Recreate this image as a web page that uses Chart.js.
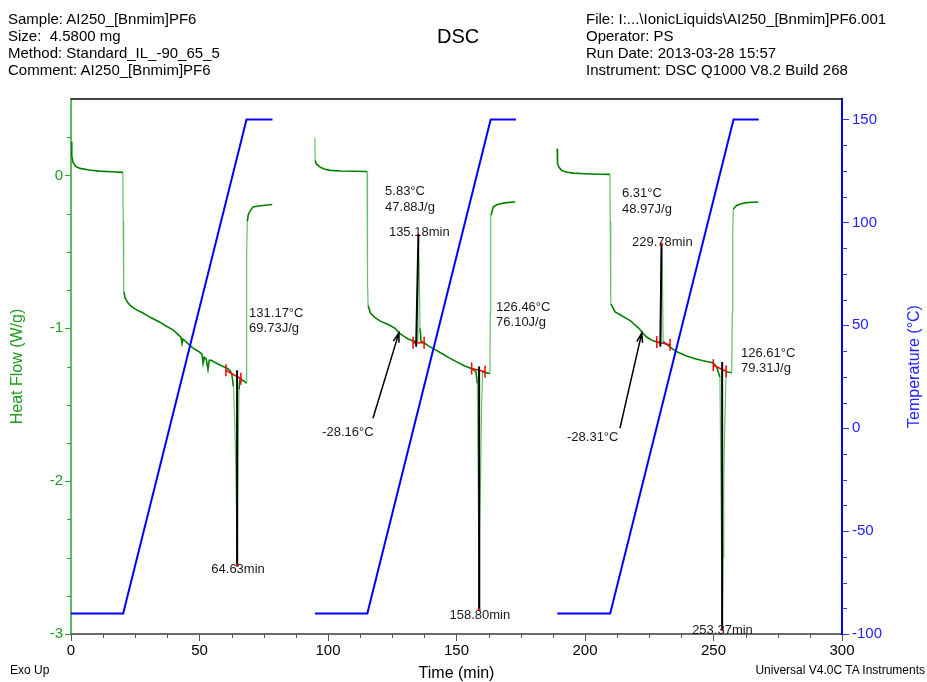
<!DOCTYPE html>
<html>
<head>
<meta charset="utf-8">
<script src="https://cdn.jsdelivr.net/npm/chart.js@4.4.1/dist/chart.umd.min.js"></script>
<style>
html,body{margin:0;padding:0;background:#fff;}
#wrap{position:relative;width:927px;height:682px;font-family:Arial,"Liberation Sans",sans-serif;color:#000;overflow:hidden;}
#c{position:absolute;left:0;top:0;}
.t{position:absolute;white-space:pre;font-size:15px;line-height:17px;}
</style>
</head>
<body>
<div id="wrap">
<canvas id="c" width="927" height="682"></canvas>
<div class="t" style="left:8px;top:10px">Sample: AI250_[Bnmim]PF6</div>
<div class="t" style="left:8px;top:27px">Size:  4.5800 mg</div>
<div class="t" style="left:8px;top:44px">Method: Standard_IL_-90_65_5</div>
<div class="t" style="left:8px;top:61px">Comment: AI250_[Bnmim]PF6</div>
<div class="t" style="left:437px;top:24px;font-size:20px;line-height:24px">DSC</div>
<div class="t" style="left:586px;top:10px">File: I:...\IonicLiquids\AI250_[Bnmim]PF6.001</div>
<div class="t" style="left:586px;top:27px">Operator: PS</div>
<div class="t" style="left:586px;top:44px">Run Date: 2013-03-28 15:57</div>
<div class="t" style="left:586px;top:61px">Instrument: DSC Q1000 V8.2 Build 268</div>
<div class="t" style="left:10px;top:662px;font-size:12px;line-height:16px">Exo Up</div>
<div class="t" style="right:2px;top:662px;font-size:12px;line-height:16px">Universal V4.0C TA Instruments</div>
</div>
<script>
// ---------- data (time in min, heat flow in W/g, temperature in °C) ----------
const heatCycle1 = [[0,0.22],[0.3,0.13],[0.8,0.085],[1.8,0.06],[3.5,0.046],[7,0.035],[11,0.028],[16,0.024],[20.2,0.02],
 [20.3,-0.3],[20.4,-0.6],[20.6,-0.76],[21,-0.8],[22,-0.83],[23,-0.85],[25,-0.875],[28,-0.9],[31,-0.93],[34.6,-0.96],
 [37,-0.985],[39.7,-1.01],[41.6,-1.04],[42.8,-1.06],[43.2,-1.1],[43.6,-1.07],[44.2,-1.08],[45.5,-1.1],[47.5,-1.13],
 [49.5,-1.15],[51.0,-1.17],[51.4,-1.23],[51.9,-1.19],[52.6,-1.2],[53.3,-1.27],[53.8,-1.21],[54.6,-1.21],[56.8,-1.23],
 [58.5,-1.245],[60.6,-1.26],[61.8,-1.275],[62.6,-1.3],[63.2,-1.38],[63.7,-1.6],[64.1,-1.9],[64.4,-2.2],[64.63,-2.55],
 [64.85,-2.2],[65.1,-1.7],[65.4,-1.4],[65.8,-1.33],[67.7,-1.35],[68.2,-1.36],[68.3,-1.0],[68.4,-0.5],[68.6,-0.3],
 [69.0,-0.255],[69.8,-0.23],[70.8,-0.207],[73,-0.2],[75.5,-0.195],[78.3,-0.19]];
const heatCycle2 = [[94.9,0.246],[95.0,0.1],[95.5,0.075],[96.9,0.054],[98.5,0.042],[100.8,0.033],[105,0.029],[110,0.027],
 [115.2,0.026],[115.3,-0.3],[115.45,-0.7],[115.6,-0.85],[116.5,-0.9],[118.3,-0.93],[120.5,-0.955],[122.8,-0.97],
 [124.5,-0.985],[126.1,-1.0],[127.6,-1.03],[129.3,-1.05],[131,-1.068],[132.6,-1.08],[134.2,-1.087],[134.7,-1.08],
 [135.0,-0.7],[135.18,-0.43],[135.5,-0.6],[135.8,-1.0],[136.2,-1.085],[137.4,-1.095],[139,-1.115],[141,-1.133],
 [144.8,-1.17],[147.5,-1.197],[150.1,-1.22],[153,-1.245],[155.3,-1.26],[156.6,-1.272],[157.6,-1.285],[158.1,-1.36],
 [158.4,-1.9],[158.6,-2.3],[158.8,-2.84],[159.1,-2.3],[159.5,-1.8],[159.8,-1.47],[160.2,-1.285],[161.5,-1.29],
 [163.0,-1.296],[163.15,-0.9],[163.25,-0.4],[163.4,-0.26],[164.3,-0.207],[165.5,-0.193],[166.9,-0.185],[169.5,-0.178],
 [172.8,-0.174]];
const heatCycle3 = [[189.2,0.174],[189.3,0.08],[189.8,0.055],[190.9,0.033],[192.5,0.022],[195.4,0.015],[200,0.011],
 [205,0.008],[209.7,0.007],[209.8,-0.3],[209.95,-0.7],[210.1,-0.84],[211.7,-0.893],[214,-0.915],[216.2,-0.937],
 [218,-0.955],[219.5,-0.98],[221,-1.0],[222.1,-1.024],[224,-1.057],[226,-1.078],[227.9,-1.09],[229.3,-1.095],
 [229.55,-0.8],[229.78,-0.46],[230.1,-0.6],[230.4,-1.085],[231.4,-1.1],[232.7,-1.116],[234.3,-1.138],[236,-1.155],
 [239,-1.178],[242.5,-1.198],[246,-1.213],[249.9,-1.227],[251.2,-1.253],[252.5,-1.318],[252.9,-2.0],[253.1,-2.4],
 [253.37,-2.97],[253.7,-2.5],[254.0,-2.0],[254.3,-1.69],[254.9,-1.285],[256,-1.288],[257.1,-1.29],[257.3,-0.9],
 [257.45,-0.4],[257.7,-0.22],[259,-0.196],[260.8,-0.185],[262.9,-0.178],[265,-0.175],[267.4,-0.174]];

const tempTime  = [0, 20.3, 68.3, 78.4, null, 94.9, 115.3, 163.3, 173.1, null, 189.2, 209.8, 257.8, 267.6];
const tempValue = [-90, -90, 150, 150, null, -90, -90, 150, 150, null, -90, -90, 150, 150];

// peak markers (black) : time of base, heat of base, time of peak, heat of peak
const peakBaseTime = [64.63, 134.3, 158.80, 229.3, 253.37];
const peakBaseHeat = [-1.275, -1.12, -1.25, -1.12, -1.22];
const peakTime     = [64.63, 135.18, 158.80, 229.78, 253.37];
const peakHeat     = [-2.55, -0.39, -2.84, -0.45, -2.97];

// integration limits (red)
const limitStartTime = [60.3, 133.1, 155.9, 227.9, 249.9];
const limitStartHeat = [-1.275, -1.095, -1.263, -1.09, -1.242];
const limitEndTime   = [66.1, 137.4, 161.1, 233.1, 254.9];
const limitEndHeat   = [-1.33, -1.095, -1.285, -1.107, -1.281];

// annotation texts, anchored at (time, heat flow)
const noteLines = [['131.17°C','69.73J/g'],['64.63min'],['5.83°C','47.88J/g'],['135.18min'],['126.46°C','76.10J/g'],
 ['158.80min'],['-28.16°C'],['6.31°C','48.97J/g'],['229.78min'],['126.61°C','79.31J/g'],['253.37min'],['-28.31°C']];
const noteTime  = [69.3, 65.0, 122.2, 123.7, 165.4, 159.1, 97.7, 214.4, 218.3, 260.7, 253.5, 193.0];
const noteHeat  = [-0.90, -2.58, -0.105, -0.373, -0.863, -2.876, -1.68, -0.118, -0.438, -1.163, -2.974, -1.712];
const noteAlign = ['left','center','left','left','left','center','left','left','left','left','center','left'];

// glass-transition arrows
const arrowFromTime = [117.5, 213.6];
const arrowFromHeat = [-1.588, -1.654];
const arrowToTime   = [127.6, 222.1];
const arrowToHeat   = [-1.03, -1.03];

// axis ranges / ticks
const timeRange = [0, 300], heatRange = [-3, 0.5], tempRange = [-100, 160];
const timeMajor = 50, heatMajor = 1, tempMajor = 50;
const timeMinor = 12.5, heatMinor = 0.25, tempMinor = 12.5;
const tempTitle = 'Temperature (°C)';

// ---------- build datasets ----------
const FONT = 'Arial, "Liberation Sans", sans-serif';
const toXY = arr => arr.map(p => ({x:p[0], y:p[1]}));
const heatData = [...toXY(heatCycle1), {x:null,y:null}, ...toXY(heatCycle2), {x:null,y:null}, ...toXY(heatCycle3)];
const tempData = tempTime.map((t,i) => ({x:t, y:tempValue[i]}));

function steep(ctx){
  const dx = Math.abs(ctx.p1.x - ctx.p0.x), dy = Math.abs(ctx.p1.y - ctx.p0.y);
  return dy > 15 && dy > 4*dx;
}

const datasets = [
  {label:'Heat Flow', data:heatData, yAxisID:'y', borderColor:'#008000', borderWidth:1.6, pointRadius:0,
   spanGaps:false, tension:0, order:3,
   segment:{borderColor:ctx => steep(ctx) ? 'rgba(0,150,0,0.6)' : '#008000',
            borderWidth:ctx => steep(ctx) ? 1.2 : 1.6}},
  {label:'Temperature', data:tempData, yAxisID:'y2', borderColor:'#0000ff', borderWidth:2, pointRadius:0,
   spanGaps:false, tension:0, order:2}
];
peakTime.forEach((t,i) => datasets.push({
  label:'peak'+i, data:[{x:peakBaseTime[i], y:peakBaseHeat[i]},{x:t, y:peakHeat[i]}], yAxisID:'y',
  borderColor:'#000', borderWidth:2, pointRadius:[0,1.5], pointBackgroundColor:'#ff0000', pointBorderWidth:0, order:0}));
limitStartTime.forEach((t,i) => datasets.push({
  label:'limit'+i, data:[{x:t, y:limitStartHeat[i]},{x:limitEndTime[i], y:limitEndHeat[i]}], yAxisID:'y',
  borderColor:'#ff0000', borderWidth:1.5, pointStyle:'line', rotation:90, pointRadius:6,
  pointBorderColor:'#ff0000', pointBorderWidth:1.5, order:1}));

// ---------- plugins ----------
const extras = {
  id:'extras',
  afterDatasetsDraw(chart){
    const {ctx, scales, chartArea} = chart;
    const x = scales.x, y = scales.y;
    ctx.save();
    // top frame line
    ctx.strokeStyle = '#000'; ctx.lineWidth = 1.5;
    ctx.beginPath(); ctx.moveTo(chartArea.left, chartArea.top); ctx.lineTo(chartArea.right, chartArea.top); ctx.stroke();
    // arrows
    ctx.strokeStyle = '#000'; ctx.lineWidth = 1.5;
    arrowFromTime.forEach((t,i) => {
      const x0 = x.getPixelForValue(t), y0 = y.getPixelForValue(arrowFromHeat[i]);
      const x1 = x.getPixelForValue(arrowToTime[i]), y1 = y.getPixelForValue(arrowToHeat[i]);
      const a = Math.atan2(y1-y0, x1-x0), L = 10, w = 0.3;
      ctx.beginPath(); ctx.moveTo(x0,y0); ctx.lineTo(x1,y1);
      ctx.moveTo(x1 - L*Math.cos(a-w), y1 - L*Math.sin(a-w)); ctx.lineTo(x1,y1);
      ctx.lineTo(x1 - L*Math.cos(a+w), y1 - L*Math.sin(a+w));
      ctx.stroke();
    });
    // texts
    ctx.fillStyle = '#1a1a1a'; ctx.font = '13px ' + FONT; ctx.textBaseline = 'middle';
    noteLines.forEach((lines,i) => {
      const px = x.getPixelForValue(noteTime[i]), py = y.getPixelForValue(noteHeat[i]);
      ctx.textAlign = noteAlign[i];
      lines.forEach((s,k) => ctx.fillText(s, px, py + k*15.5));
    });
    ctx.restore();
  },
  afterDraw(chart){
    const {ctx, scales, chartArea} = chart;
    ctx.save(); ctx.lineWidth = 1;
    // minor ticks x
    ctx.strokeStyle = '#555';
    for (let v = timeRange[0]; v <= timeRange[1] + 1e-9; v += timeMinor) {
      if (Math.abs(v/timeMajor - Math.round(v/timeMajor)) < 1e-6) continue;
      const p = Math.round(scales.x.getPixelForValue(v)) + 0.5;
      ctx.beginPath(); ctx.moveTo(p, chartArea.bottom); ctx.lineTo(p, chartArea.bottom + 4); ctx.stroke();
    }
    ctx.strokeStyle = '#2e9e2e';
    for (let v = heatRange[0]; v <= heatRange[1] - 1e-9; v += heatMinor) {
      if (Math.abs(v/heatMajor - Math.round(v/heatMajor)) < 1e-6) continue;
      const p = Math.round(scales.y.getPixelForValue(v)) + 0.5;
      ctx.beginPath(); ctx.moveTo(chartArea.left - 4, p); ctx.lineTo(chartArea.left, p); ctx.stroke();
    }
    ctx.strokeStyle = '#3333ff';
    for (let v = tempRange[0]; v <= tempRange[1] - 1e-9; v += tempMinor) {
      if (Math.abs(v/tempMajor - Math.round(v/tempMajor)) < 1e-6) continue;
      const p = Math.round(scales.y2.getPixelForValue(v)) + 0.5;
      ctx.beginPath(); ctx.moveTo(chartArea.right, p); ctx.lineTo(chartArea.right + 5, p); ctx.stroke();
    }
    // right axis title, reading bottom-to-top
    const s2 = scales.y2;
    ctx.translate(s2.right - 12, (s2.top + s2.bottom) / 2);
    ctx.rotate(-Math.PI / 2);
    ctx.font = '16px ' + FONT; ctx.fillStyle = '#2222ff';
    ctx.textAlign = 'center'; ctx.textBaseline = 'middle';
    ctx.fillText(tempTitle, 0, 0);
    ctx.restore();
  }
};

const onlyMajor = step => s => { s.ticks = s.ticks.filter(t => Math.abs(t.value/step - Math.round(t.value/step)) < 1e-6); };

new Chart(document.getElementById('c'), {
  type:'line',
  data:{datasets},
  options:{
    responsive:false, animation:false, devicePixelRatio:1,
    layout:{padding:{top:99, left:0, right:0, bottom:0}},
    plugins:{legend:{display:false}, tooltip:{enabled:false}, title:{display:false}},
    scales:{
      x:{type:'linear', position:'bottom', min:timeRange[0], max:timeRange[1],
         ticks:{stepSize:timeMajor, color:'#000', font:{family:FONT, size:15}, padding:1, maxRotation:0, autoSkip:false},
         grid:{drawOnChartArea:false, drawTicks:true, tickLength:7, tickColor:'#555', tickWidth:1},
         border:{color:'#6b6b6b', width:2},
         title:{display:true, text:'Time (min)', color:'#000', font:{family:FONT, size:16, lineHeight:1.1}, padding:{top:0, bottom:0}},
         afterBuildTicks:onlyMajor(timeMajor),
         afterFit(s){ s.height = 48; }},
      y:{type:'linear', position:'left', min:heatRange[0], max:heatRange[1],
         ticks:{stepSize:heatMajor, color:'#1e9a1e', font:{family:FONT, size:15}, padding:2},
         grid:{drawOnChartArea:false, tickLength:6, tickColor:'#2e9e2e', tickWidth:1},
         border:{color:'rgba(40,160,40,0.75)', width:2},
         title:{display:true, text:'Heat Flow (W/g)', color:'#1e9a1e', font:{family:FONT, size:16}, padding:{top:8}},
         afterBuildTicks:onlyMajor(heatMajor),
         afterFit(s){ s.width = 71; }},
      y2:{type:'linear', position:'right', min:tempRange[0], max:tempRange[1],
         ticks:{stepSize:tempMajor, color:'#2222ff', font:{family:FONT, size:15}, padding:3},
         grid:{drawOnChartArea:false, tickLength:7, tickColor:'#3333ff', tickWidth:1},
         border:{color:'#0000ff', width:2},
         title:{display:false, text:tempTitle},
         afterBuildTicks:onlyMajor(tempMajor),
         afterFit(s){ s.width = 85; }}
    }
  },
  plugins:[extras]
});
</script>
</body>
</html>
